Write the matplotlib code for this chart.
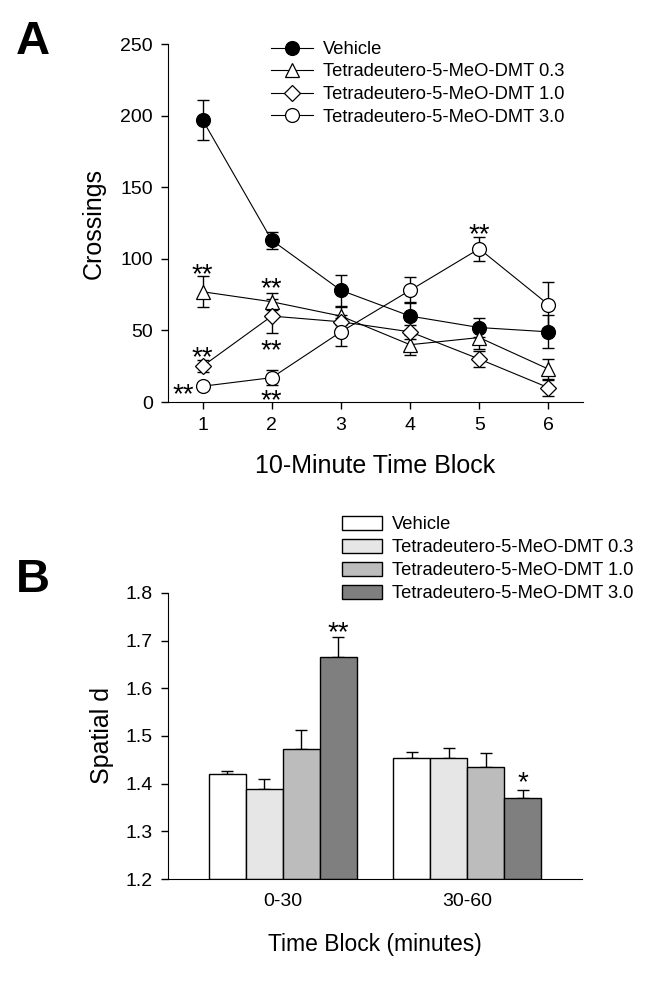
import matplotlib
matplotlib.use("Agg")
import matplotlib.pyplot as plt
import matplotlib.transforms as mtransforms
import numpy as np

plt.rcParams['font.family'] = ['Liberation Sans', 'DejaVu Sans']

# ---- Panel A data ----
blocks = [1, 2, 3, 4, 5, 6]
groups = ["Vehicle", "Tetradeutero-5-MeO-DMT 0.3", "Tetradeutero-5-MeO-DMT 1.0", "Tetradeutero-5-MeO-DMT 3.0"]
veh_mean = [197, 113, 78, 60, 52, 49]
veh_err = [14, 6, 11, 9.5, 6.5, 11.5]
d03_mean = [77, 70, 60, 40, 45, 23]
d03_err = [11, 6, 6, 7, 8, 7]
d10_mean = [25, 60, 56, 49, 30, 10]
d10_err = [4, 12, 5, 5, 5.5, 5.5]
d30_mean = [11, 17, 49, 78, 107, 68]
d30_err = [2, 5, 10, 9, 8.5, 16]

# significance stars for panel A
stars_a_x = [1, 1, 0.72, 2, 2, 2, 5]
stars_a_y = [93, 35, 9, 83, 40, 5, 121]
stars_a_txt = ["**", "**", "**", "**", "**", "**", "**"]

# ---- Panel B data ----
time_blocks = ["0-30", "30-60"]
b_veh = [1.420, 1.454]
b_veh_err = [0.007, 0.013]
b_d03 = [1.389, 1.453]
b_d03_err = [0.020, 0.022]
b_d10 = [1.472, 1.434]
b_d10_err = [0.040, 0.031]
b_d30 = [1.666, 1.369]
b_d30_err = [0.041, 0.017]
stars_b_y = [1.728, 1.414]
stars_b_txt = ["**", "*"]

W, H = 658, 981
fig = plt.figure(figsize=(W / 100, H / 100), dpi=100)

STAR_FS = 20
star_shift = -0.22 * STAR_FS
LEG_FS = 13.2

# ---------------- Panel A ----------------
ax1 = fig.add_axes([168 / W, 1 - 402 / H, (583 - 168) / W, (402 - 44) / H])
series = [
    (veh_mean, veh_err, 'o', 'black'),
    (d03_mean, d03_err, '^', 'white'),
    (d10_mean, d10_err, 'D', 'white'),
    (d30_mean, d30_err, 'o', 'white'),
]
msizes = [10, 10, 8.5, 10]
handles = []
for (m, e, mk, fc), lab, ms in zip(series, groups, msizes):
    ax1.errorbar(blocks, m, yerr=e, fmt='none', ecolor='black', elinewidth=1.0,
                 capsize=4, capthick=1.0, zorder=2)
    h, = ax1.plot(blocks, m, marker=mk, color='black', lw=0.8, ms=ms,
                  mfc=fc, mec='black', mew=0.9, zorder=3, label=lab)
    handles.append(h)

off1 = mtransforms.offset_copy(ax1.transData, fig=fig, x=0, y=star_shift, units='points')
for x, y, t in zip(stars_a_x, stars_a_y, stars_a_txt):
    ax1.text(x, y, t, ha='center', va='center', fontsize=STAR_FS, transform=off1)

ax1.set_xlim(0.5, 6.5)
ax1.set_ylim(0, 250)
ax1.set_xticks(blocks)
ax1.set_yticks(np.arange(0, 251, 50))
ax1.spines['top'].set_visible(False)
ax1.spines['right'].set_visible(False)
ax1.tick_params(direction='out', length=5, width=1, labelsize=14, pad=6)
ax1.set_ylabel('Crossings', fontsize=18, labelpad=10)
ax1.set_xlabel('10-Minute Time Block', fontsize=18, labelpad=14)
ax1.legend(handles=handles, loc='upper left', bbox_to_anchor=(271 / W, 1 - 41 / H),
           bbox_transform=fig.transFigure, frameon=False, fontsize=LEG_FS,
           handlelength=2.3, handletextpad=0.55, labelspacing=0.3, borderaxespad=0,
           borderpad=0)

# ---------------- Panel B ----------------
ax2 = fig.add_axes([168 / W, 1 - 879 / H, (582 - 168) / W, (879 - 593) / H])
xb = np.arange(len(time_blocks))
bw = 0.2
bar_sets = [(b_veh, b_veh_err, 'white'), (b_d03, b_d03_err, '#e6e6e6'),
            (b_d10, b_d10_err, '#bcbcbc'), (b_d30, b_d30_err, '#7f7f7f')]
bar_handles = []
for i, ((v, e, c), lab) in enumerate(zip(bar_sets, groups)):
    pos = xb + (i - 1.5) * bw
    bh = ax2.bar(pos, np.array(v) - 1.2, bottom=1.2, width=bw, color=c,
                 edgecolor='black', linewidth=1.0, label=lab, zorder=2)
    ax2.errorbar(pos, v, yerr=[np.zeros(len(e)), e], fmt='none', ecolor='black',
                 elinewidth=1.0, capsize=4, capthick=1.0, zorder=1)
    bar_handles.append(bh)

off2 = mtransforms.offset_copy(ax2.transData, fig=fig, x=0, y=star_shift, units='points')
d30_pos = xb + 1.5 * bw
for x, y, t in zip(d30_pos, stars_b_y, stars_b_txt):
    ax2.text(x, y, t, ha='center', va='center', fontsize=STAR_FS, transform=off2)

ax2.set_xlim(-0.62, 1.62)
ax2.set_ylim(1.2, 1.8)
ax2.set_xticks(xb)
ax2.set_xticklabels(time_blocks)
ax2.set_yticks(np.round(np.arange(1.2, 1.81, 0.1), 1))
ax2.set_yticklabels([f"{t:.1f}" for t in np.arange(1.2, 1.81, 0.1)])
ax2.spines['top'].set_visible(False)
ax2.spines['right'].set_visible(False)
ax2.tick_params(axis='y', direction='out', length=5, width=1, labelsize=14, pad=6)
ax2.tick_params(axis='x', length=0, labelsize=14, pad=10)
ax2.set_ylabel('Spatial d', fontsize=18, labelpad=8)
ax2.set_xlabel('Time Block (minutes)', fontsize=16.5, labelpad=17)
ax2.legend(handles=bar_handles, loc='upper left', bbox_to_anchor=(342 / W, 1 - 516 / H),
           bbox_transform=fig.transFigure, frameon=False, fontsize=LEG_FS,
           handlelength=2.2, handleheight=0.8, handletextpad=0.55, labelspacing=0.3,
           borderaxespad=0, borderpad=0)

# panel letters
fig.text(16 / W, 1 - 42 / H, 'A', fontsize=34, fontweight='bold', va='center', ha='left')
fig.text(16 / W, 1 - 580 / H, 'B', fontsize=34, fontweight='bold', va='center', ha='left')

fig.savefig('out.png', dpi=100)
